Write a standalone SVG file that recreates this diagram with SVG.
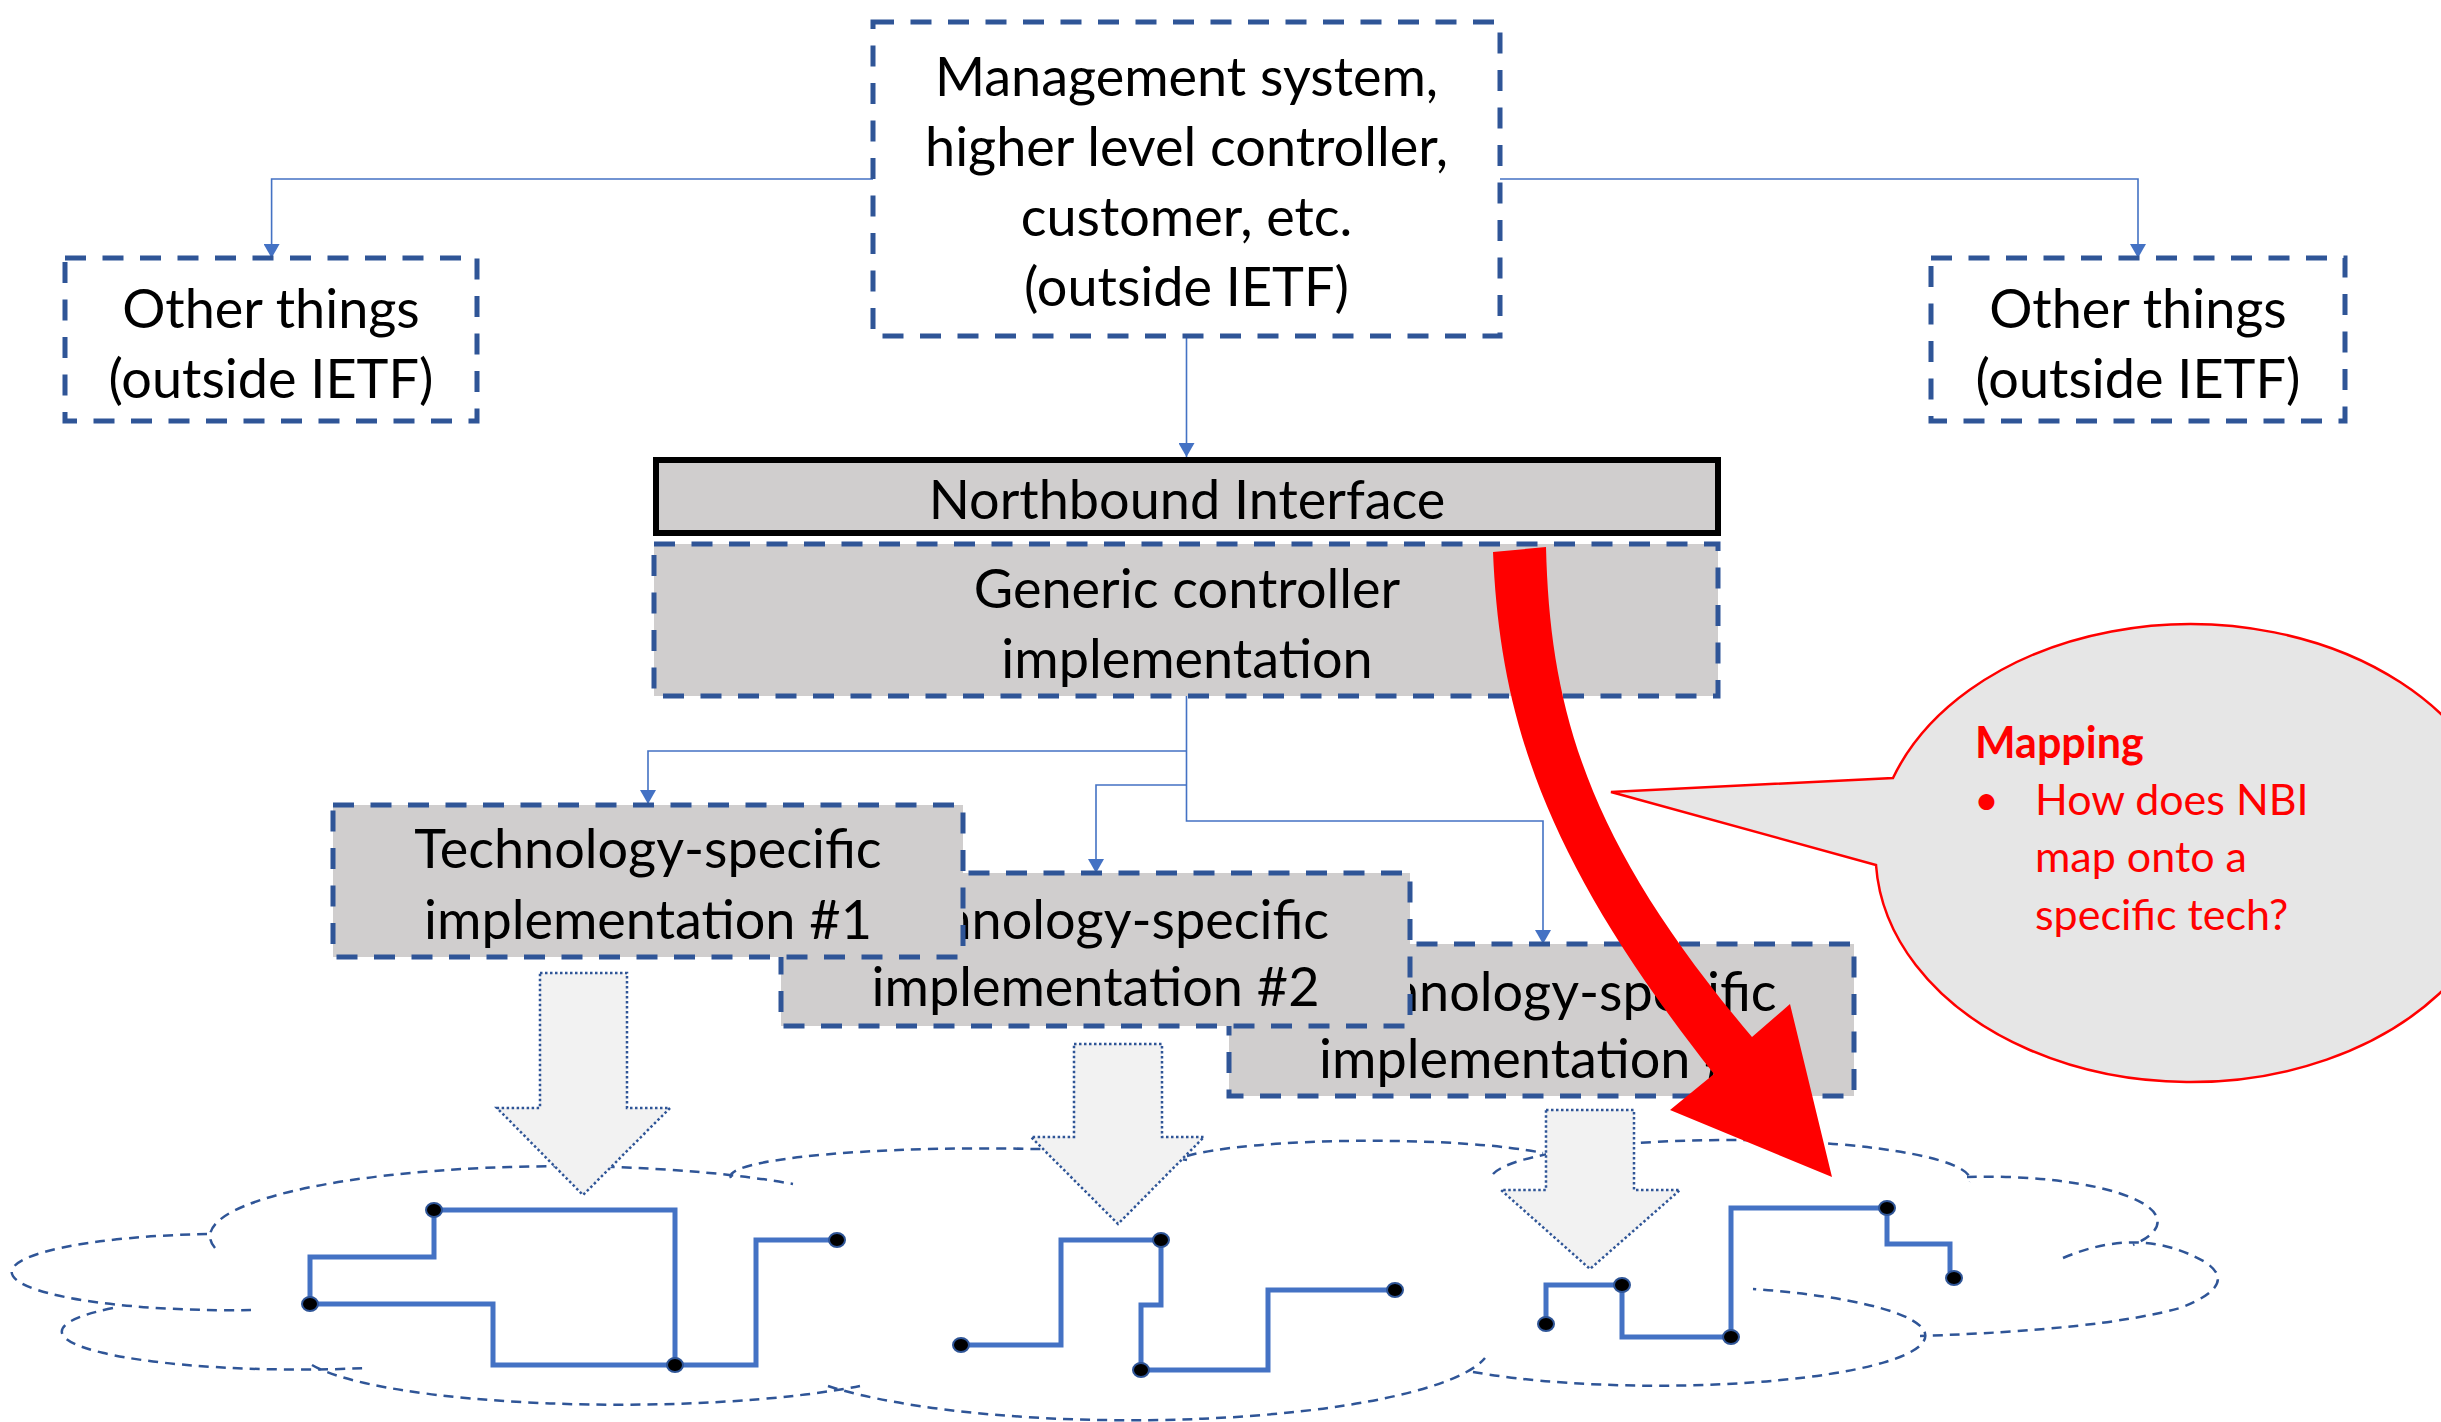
<svg xmlns="http://www.w3.org/2000/svg" width="2441" height="1422" viewBox="0 0 2441 1422">
  <style>
    .box { fill: #ffffff; stroke: #2f5597; stroke-width: 5; stroke-dasharray: 21 16.5; }
    .grey { fill: #d0cece; }
    .lbl { font-family: Lato, "Liberation Sans", sans-serif; font-size: 54px; fill: #000000; text-anchor: middle; }
    .conn { fill: none; stroke: #4472c4; stroke-width: 1.6; marker-end: url(#ah); }
    .cloud { fill: none; stroke: #2f5597; stroke-width: 2.5; stroke-dasharray: 10 7; }
    .block { fill: #f2f2f2; stroke: #2f5597; stroke-width: 2.5; stroke-dasharray: 2.5 2.5; }
    .net { fill: none; stroke: #4472c4; stroke-width: 5; }
    .node { fill: #000000; stroke: #2f5597; stroke-width: 2; }
    .note { font-family: Lato, "Liberation Sans", sans-serif; font-size: 43px; fill: #ff0000; }
  </style>
  <defs>
    <marker id="ah" viewBox="0 0 14 16" refX="14" refY="8" markerWidth="14" markerHeight="16" markerUnits="userSpaceOnUse" orient="auto">
      <path d="M0,0 L14,8 L0,16 Z" fill="#4472c4"/>
    </marker>
  </defs>

  <rect width="2441" height="1422" fill="#ffffff"/>

  <!-- network cloud outline (overlapping bumps) -->
  <g id="cloud">
    <path class="cloud" d="M215,1248 A350,70 0 0 1 793,1184"/>
    <path class="cloud" d="M207,1234 A218,38 0 1 0 255,1310"/>
    <path class="cloud" d="M113,1308 A238,38 0 0 0 367,1368"/>
    <path class="cloud" d="M312,1365 A320,55 0 0 0 860,1386"/>
    <path class="cloud" d="M828,1386 A360,75 0 0 0 1485,1358"/>
    <path class="cloud" d="M1473,1372 A268,50 0 1 0 1753,1289"/>
    <path class="cloud" d="M2063,1258 Q2140,1225 2205,1262 Q2240,1285 2180,1308 Q2100,1330 1920,1336"/>
    <path class="cloud" d="M1967,1177 A170,45 0 0 1 2133,1245"/>
    <path class="cloud" d="M1493,1174 A240,40 0 0 1 1970,1182"/>
    <path class="cloud" d="M731,1178 A252,28 0 0 1 1187,1160"/>
    <path class="cloud" d="M1187,1156 A200,25 0 0 1 1543,1153"/>
  </g>

  <!-- technology paths inside the network -->
  <g id="net1">
    <path class="net" d="M434,1210 L434,1257 L310,1257 L310,1304 L493,1304 L493,1365 L675,1365 L756,1365 L756,1240 L837,1240"/>
    <path class="net" d="M434,1210 L675,1210 L675,1365"/>
    <ellipse class="node" cx="434" cy="1210" rx="8" ry="7"/>
    <ellipse class="node" cx="310" cy="1304" rx="8" ry="7"/>
    <ellipse class="node" cx="675" cy="1365" rx="8" ry="7"/>
    <ellipse class="node" cx="837" cy="1240" rx="8" ry="7"/>
  </g>
  <g id="net2">
    <path class="net" d="M961,1345 L1061,1345 L1061,1240 L1161,1240 L1161,1305 L1141,1305 L1141,1370 L1268,1370 L1268,1290 L1395,1290"/>
    <ellipse class="node" cx="961" cy="1345" rx="8" ry="7"/>
    <ellipse class="node" cx="1161" cy="1240" rx="8" ry="7"/>
    <ellipse class="node" cx="1141" cy="1370" rx="8" ry="7"/>
    <ellipse class="node" cx="1395" cy="1290" rx="8" ry="7"/>
  </g>
  <g id="net3">
    <path class="net" d="M1546,1324 L1546,1285 L1622,1285 L1622,1337 L1731,1337 L1731,1208 L1887,1208 L1887,1244 L1950,1244 L1950,1272"/>
    <ellipse class="node" cx="1546" cy="1324" rx="8" ry="7"/>
    <ellipse class="node" cx="1622" cy="1285" rx="8" ry="7"/>
    <ellipse class="node" cx="1731" cy="1337" rx="8" ry="7"/>
    <ellipse class="node" cx="1887" cy="1208" rx="8" ry="7"/>
    <ellipse class="node" cx="1954" cy="1278" rx="8" ry="7"/>
  </g>

  <!-- downward block arrows -->
  <g id="down-arrows">
    <path class="block" d="M540,973 L627,973 L627,1108 L670,1108 L583,1195 L497,1108 L540,1108 Z"/>
    <path class="block" d="M1074,1044 L1162,1044 L1162,1137 L1204,1137 L1118,1224 L1031,1137 L1074,1137 Z"/>
    <path class="block" d="M1546,1110 L1634,1110 L1634,1190 L1680,1190 L1590,1269 L1501,1190 L1546,1190 Z"/>
  </g>

  <!-- connectors -->
  <g id="connectors">
    <path class="conn" d="M873,179 L271.6,179 L271.6,258"/>
    <path class="conn" d="M1500,179 L2138,179 L2138,258"/>
    <path class="conn" d="M1186.5,336 L1186.5,457"/>
    <path class="conn" d="M1186.5,696 L1186.5,821 L1543,821 L1543,944"/>
    <path class="conn" d="M1186.5,751 L648,751 L648,804"/>
    <path class="conn" d="M1186.5,785 L1096,785 L1096,873"/>
  </g>

  <g id="mgmt">
    <rect class="box" x="873" y="22" width="627" height="314"/>
    <text class="lbl" x="1186.5" y="96">Management system,</text>
    <text class="lbl" x="1186.5" y="166">higher level controller,</text>
    <text class="lbl" x="1186.5" y="236">customer, etc.</text>
    <text class="lbl" x="1186.5" y="306">(outside IETF)</text>
  </g>

  <g id="other-left">
    <rect class="box" x="65" y="258" width="412" height="163"/>
    <text class="lbl" x="271" y="328">Other things</text>
    <text class="lbl" x="271" y="398">(outside IETF)</text>
  </g>

  <g id="other-right">
    <rect class="box" x="1931" y="258" width="414" height="163"/>
    <text class="lbl" x="2138" y="328">Other things</text>
    <text class="lbl" x="2138" y="398">(outside IETF)</text>
  </g>

  <g id="nbi">
    <rect x="656" y="460" width="1062" height="73" fill="#d0cece" stroke="#000000" stroke-width="6"/>
    <text class="lbl" x="1187" y="519">Northbound Interface</text>
  </g>

  <g id="generic">
    <rect class="box grey" x="654" y="544" width="1064" height="152"/>
    <text class="lbl" x="1187" y="608">Generic controller</text>
    <text class="lbl" x="1187" y="678">implementation</text>
  </g>

  <g id="tech3">
    <rect class="box grey" x="1229" y="944" width="625" height="152"/>
    <text class="lbl" x="1543" y="1011">Technology-specific</text>
    <text class="lbl" x="1543" y="1078">implementation #3</text>
  </g>

  <g id="tech2">
    <rect class="box grey" x="781" y="873" width="629" height="153"/>
    <text class="lbl" x="1095.5" y="939">Technology-specific</text>
    <text class="lbl" x="1095.5" y="1006">implementation #2</text>
  </g>

  <g id="tech1">
    <rect class="box grey" x="333" y="805" width="630" height="152"/>
    <text class="lbl" x="648" y="868">Technology-specific</text>
    <text class="lbl" x="648" y="939">implementation #1</text>
  </g>

  <!-- red mapping arrow -->
  <g id="mapping-arrow">
    <path d="M1493,552 L1546,547 C1550,715 1590,845 1752,1037 L1790,1004 L1832,1177 L1670,1110 L1714,1074 C1545,860 1500,720 1493,552 Z" fill="#ff0000"/>
  </g>

  <!-- callout -->
  <g id="callout">
    <path d="M1893,778 A315,229 0 1 1 1876,865 L1611,792 Z" fill="#e6e6e6" stroke="#ff0000" stroke-width="2.5"/>
    <text class="note" x="1975" y="758" font-weight="bold" font-size="44">Mapping</text>
    <text class="note" x="1974" y="815">•</text>
    <text class="note" x="2035" y="815">How does NBI</text>
    <text class="note" x="2035" y="872">map onto a</text>
    <text class="note" x="2035" y="930">specific tech?</text>
  </g>
</svg>
